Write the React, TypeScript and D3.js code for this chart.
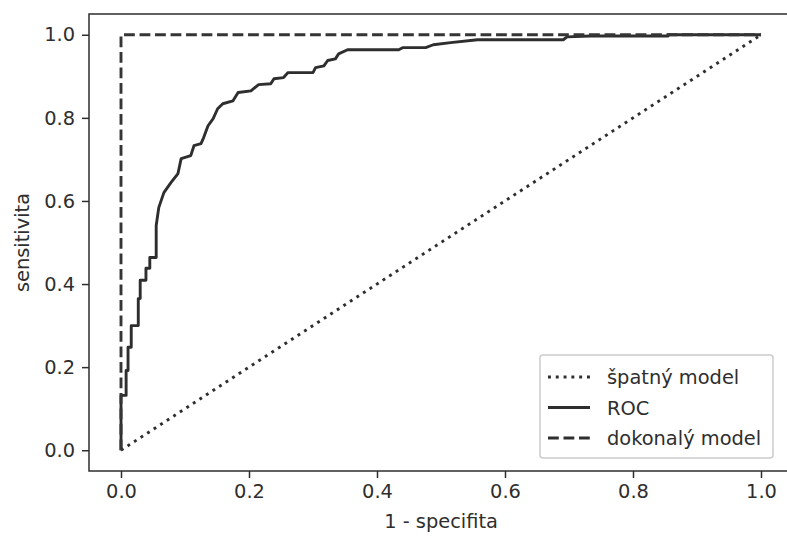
import React, { useEffect, useRef } from "react";
import { axisBottom, axisLeft, line, scaleLinear, select } from "d3";

// ROC curve (1 - specificity, sensitivity)
const fpr = [
  0, 0, 0.008, 0.008, 0.011, 0.011, 0.016, 0.016, 0.027, 0.027, 0.030, 0.030,
  0.039, 0.039, 0.045, 0.045, 0.055, 0.055, 0.059, 0.067, 0.078, 0.089, 0.094,
  0.109, 0.114, 0.125, 0.129, 0.136, 0.144, 0.151, 0.159, 0.175, 0.183, 0.203,
  0.215, 0.234, 0.239, 0.254, 0.261, 0.300, 0.304, 0.317, 0.323, 0.335, 0.340,
  0.354, 0.434, 0.440, 0.476, 0.488, 0.515, 0.557, 0.691, 0.697, 0.733, 0.855,
  0.855, 1.0
];
const tpr = [
  0, 0.132, 0.132, 0.192, 0.192, 0.248, 0.248, 0.300, 0.300, 0.365, 0.365, 0.409,
  0.409, 0.438, 0.438, 0.464, 0.464, 0.541, 0.584, 0.620, 0.644, 0.666, 0.702,
  0.709, 0.733, 0.738, 0.752, 0.781, 0.798, 0.822, 0.834, 0.841, 0.861, 0.865,
  0.880, 0.882, 0.894, 0.897, 0.909, 0.909, 0.921, 0.925, 0.938, 0.942, 0.954,
  0.964, 0.964, 0.969, 0.969, 0.976, 0.981, 0.988, 0.988, 0.995, 0.997, 0.997,
  1.0, 1.0
];

const badX = [0, 1];
const badY = [0, 1];
const perfectX = [0, 0, 1];
const perfectY = [0, 1, 1];

const xTicks = [0, 0.2, 0.4, 0.6, 0.8, 1.0];
const yTicks = [0, 0.2, 0.4, 0.6, 0.8, 1.0];

const legendLabels = ["špatný model", "ROC", "dokonalý model"];

const FONT = "DejaVu Sans, sans-serif";
const FS = 19.4;
const INK = "#2e2e2e";
const LW = 2.9;

const margin = { left: 89, top: 14, right: 793, bottom: 471 };

const App = () => {
  const svgRef = useRef(null);

  const xScale = scaleLinear().domain([-0.05, 1.05]).range([margin.left, margin.right]);
  const yScale = scaleLinear().domain([-0.05, 1.05]).range([margin.bottom, margin.top]);

  const pathOf = (xs: number[], ys: number[]) =>
    line<number>()
      .x((d, i) => xScale(xs[i]))
      .y((d, i) => yScale(ys[i]))(xs);

  useEffect(() => {
    const svg = select(svgRef.current);

    const xAxis = axisBottom(xScale)
      .tickValues(xTicks)
      .tickFormat(d => (d as number).toFixed(1))
      .tickSize(7)
      .tickPadding(6);
    svg
      .select(".x-axis")
      .attr("transform", `translate(0,${margin.bottom})`)
      .call(xAxis as any);

    const yAxis = axisLeft(yScale)
      .tickValues(yTicks)
      .tickFormat(d => (d as number).toFixed(1))
      .tickSize(7)
      .tickPadding(7);
    svg
      .select(".y-axis")
      .attr("transform", `translate(${margin.left},0)`)
      .call(yAxis as any);

    svg.selectAll(".x-axis .domain, .y-axis .domain").remove();
    svg
      .selectAll(".x-axis text, .y-axis text")
      .attr("font-family", FONT)
      .attr("font-size", FS)
      .attr("fill", INK);
    svg.selectAll(".x-axis line, .y-axis line").attr("stroke", INK).attr("stroke-width", 1.5);
  }, []);

  const legendRows = [
    { label: legendLabels[0], dash: "2.9,4.9" },
    { label: legendLabels[1], dash: null },
    { label: legendLabels[2], dash: "10.8,4.7" }
  ];

  return (
    <svg
      ref={svgRef}
      width={787}
      height={537}
      style={{ position: "absolute", left: 0, top: 0, background: "white" }}
    >
      <rect x={0} y={0} width={787} height={537} fill="white" />

      {/* spatny model */}
      <path
        d={pathOf(badX, badY) || ""}
        fill="none"
        stroke={INK}
        strokeWidth={LW}
        strokeDasharray="2.9,4.9"
      />
      {/* ROC */}
      <path
        d={pathOf(fpr, tpr) || ""}
        fill="none"
        stroke={INK}
        strokeWidth={LW}
        strokeLinejoin="round"
      />
      {/* dokonaly model */}
      <path
        d={pathOf(perfectX, perfectY) || ""}
        fill="none"
        stroke="#353535"
        strokeWidth={LW}
        strokeDasharray="10.8,4.7"
      />

      {/* frame */}
      <rect
        x={margin.left}
        y={margin.top}
        width={margin.right - margin.left}
        height={margin.bottom - margin.top}
        fill="none"
        stroke={INK}
        strokeWidth={1.5}
      />

      <g className="x-axis" />
      <g className="y-axis" />

      <text
        x={(margin.left + margin.right) / 2}
        y={528}
        textAnchor="middle"
        fontFamily={FONT}
        fontSize={FS}
        fill={INK}
      >
        1 - specifita
      </text>
      <text
        transform={`translate(29,${(margin.top + margin.bottom) / 2}) rotate(-90)`}
        textAnchor="middle"
        fontFamily={FONT}
        fontSize={FS}
        fill={INK}
      >
        sensitivita
      </text>

      {/* legend */}
      <g transform="translate(540,355)">
        <rect
          x={0}
          y={0}
          width={233}
          height={103}
          rx={3}
          fill="white"
          fillOpacity={0.8}
          stroke="#cccccc"
          strokeWidth={1.5}
        />
        {legendRows.map((row, i) => (
          <g key={row.label} transform={`translate(0,${22 + i * 30.5})`}>
            <line
              x1={8}
              x2={50}
              y1={0}
              y2={0}
              stroke={INK}
              strokeWidth={LW}
              strokeDasharray={row.dash || undefined}
            />
            <text x={67} y={7} fontFamily={FONT} fontSize={FS} fill={INK}>
              {row.label}
            </text>
          </g>
        ))}
      </g>
    </svg>
  );
};

export default App;
